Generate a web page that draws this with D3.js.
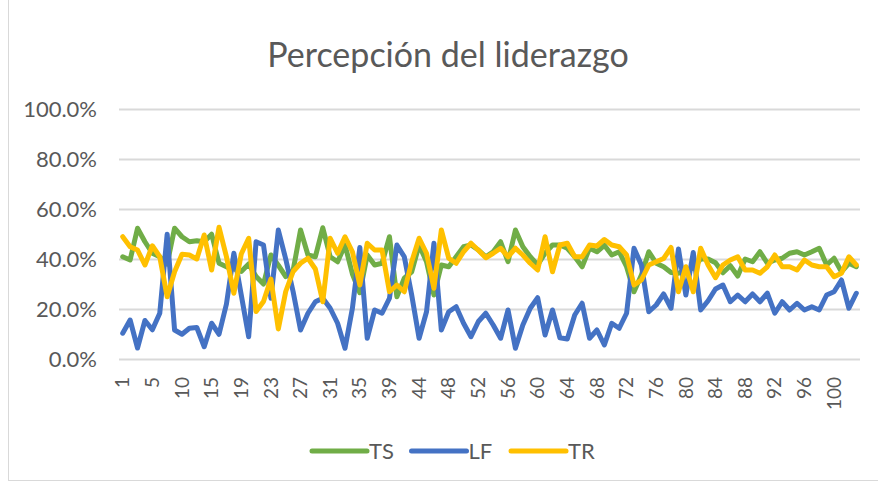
<!DOCTYPE html>
<html>
<head>
<meta charset="utf-8">
<script src="https://cdn.jsdelivr.net/npm/d3@7"></script>
<style>
  body { margin: 0; background: #fff; }
  text { font-family: Lato, "Liberation Sans", sans-serif; fill: #595959; }
</style>
</head>
<body>
<div id="chart-wrap"></div>
<script>
const categories = [1, 2, 3, 4, 5, 6, 7, 9, 10, 11, 12, 14, 15, 16, 17, 18, 19, 20, 21, 22,
  23, 24, 25, 26, 27, 28, 29, 30, 31, 32, 33, 34, 35, 36, 37, 38, 39, 40, 41, 43,
  44, 45, 46, 47, 48, 49, 50, 51, 52, 53, 54, 55, 56, 57, 58, 59, 60, 61, 62, 63,
  64, 65, 66, 67, 68, 69, 70, 71, 72, 73, 74, 75, 76, 77, 78, 79, 80, 81, 82, 83,
  84, 85, 86, 87, 88, 89, 90, 91, 92, 93, 94, 95, 96, 97, 98, 99, 100, 101, 102, 103];

const tsValues = [40.9, 39.6, 52.3, 46.9, 42.3, 40.9, 38, 52.3, 48.9, 46.9,
  47.3, 46.9, 49.9, 38.3, 36.9, 36, 35, 38, 33, 30,
  41.6, 37.5, 33, 35.5, 51.6, 41.6, 40.9, 52.5, 40.9, 38.9,
  45.6, 34, 26.5, 41.6, 37.6, 38.3, 48.9, 24.9, 32.3, 34.9,
  45.6, 38.9, 25.6, 37.6, 36.9, 40.9, 44.9, 45.6, 43.6, 40.9,
  42.9, 46.9, 38.9, 51.6, 44.9, 40.9, 37.6, 42.3, 45.6, 45.6,
  44.3, 40.9, 36.9, 44.3, 42.9, 45.5, 41.6, 42.9, 36.9, 26.9,
  33.6, 42.9, 38.3, 36.9, 34.6, 34.3, 35.6, 36.3, 40, 40,
  38.5, 34.5, 37.3, 33.2, 40, 38.9, 42.9, 38.3, 39.6, 40.3,
  42.3, 42.9, 41.6, 42.9, 44.3, 37.6, 40.3, 34.9, 38.3, 36.9];

const lfValues = [10.3, 15.6, 4.4, 15.4, 11.7, 18.3, 49.9, 11.6, 9.9, 12.3,
  12.6, 4.9, 14.3, 9.9, 22, 42.3, 25.6, 8.9, 46.9, 45.6,
  24.3, 51.6, 40, 26.9, 11.6, 18.3, 22.9, 24.3, 20.3, 14.3,
  4.3, 20.3, 44.6, 8.3, 19.6, 18.3, 24.3, 45.6, 40.9, 25.6,
  8.3, 18.9, 46.3, 11.6, 18.9, 20.9, 14.3, 8.9, 15, 18.3,
  13.6, 8.3, 19.6, 4.3, 13.6, 20.3, 24.5, 9.6, 19.6, 8.5,
  8, 17.6, 22.3, 8.3, 11.6, 5.6, 14.3, 12.3, 18.3, 44.3,
  37.6, 18.9, 21.6, 26, 20.3, 44, 25.6, 42.6, 19.6, 23.3,
  28, 29.6, 22.9, 25.6, 22.9, 26, 22.9, 26.3, 18.3, 22.9,
  19.6, 22.3, 19.6, 20.9, 19.6, 25.6, 26.9, 31.6, 20.3, 26.3];

const trValues = [48.9, 44.9, 43.6, 37.6, 45.3, 40.9, 24.9, 34.9, 41.9, 41.6,
  40, 49.6, 35.6, 52.7, 40.9, 26.3, 42, 48.3, 19, 23,
  32, 12, 27, 35, 38.3, 40.3, 36, 22.9, 48.3, 42.3,
  48.9, 42.9, 29.6, 46.3, 43.6, 43.6, 26.9, 29.6, 26.9, 38.9,
  48.3, 42.3, 28.3, 51.6, 40.3, 38.3, 42.9, 46.3, 43.5, 40.5,
  42.3, 44.3, 40.9, 44.3, 41.6, 38.3, 35.6, 48.9, 34.9, 45.6,
  46.3, 40.9, 40.9, 45.6, 45.2, 47.8, 45.6, 44.9, 41.6, 29.6,
  31.6, 37.6, 38.9, 40.2, 44.6, 26.9, 36.9, 26.9, 44.3, 37.6,
  32.5, 37.6, 39.6, 40.9, 35.6, 35.6, 34.3, 36.9, 41.6, 36.9,
  36.9, 35.6, 39.6, 37.6, 36.9, 36.9, 32.9, 34.3, 40.9, 37.6];

const seriesNames = ["TS", "LF", "TR"];
const seriesColors = ["#70AD47", "#4472C4", "#FFC000"];
const yTicks = [0, 20, 40, 60, 80, 100];

const width = 878;
const height = 484;
const plot = {left: 119, right: 860, top: 109, bottom: 359};

const series = [tsValues, lfValues, trValues].map((vals, k) => ({
  name: seriesNames[k],
  color: seriesColors[k],
  values: vals.map((v, i) => ({cat: categories[i], value: v}))
}));

const svg = d3.select("#chart-wrap")
  .append("svg")
  .attr("width", width)
  .attr("height", height);

// chart frame (only left and bottom edges are visible in the picture)
svg.append("line")
  .attr("x1", 8.5).attr("x2", 8.5).attr("y1", 0).attr("y2", 481)
  .attr("stroke", "#d9d9d9").attr("stroke-width", 1);
svg.append("line")
  .attr("x1", 8).attr("x2", width).attr("y1", 480.5).attr("y2", 480.5)
  .attr("stroke", "#d9d9d9").attr("stroke-width", 1);

svg.append("text")
  .attr("x", 448)
  .attr("y", 67)
  .attr("text-anchor", "middle")
  .style("font-size", "34px")
  .text("Percepción del liderazgo");

const x = d3.scaleBand()
  .domain(categories)
  .range([plot.left, plot.right]);

const y = d3.scaleLinear()
  .domain([0, 100])
  .range([plot.bottom, plot.top]);

// gridlines + y labels
const yAxis = svg.append("g")
  .attr("transform", "translate(" + plot.left + ",0)")
  .call(d3.axisLeft(y)
    .tickValues(yTicks)
    .tickSize(-(plot.right - plot.left))
    .tickPadding(22)
    .tickFormat(d => d3.format(".1f")(d) + "%"));
yAxis.select(".domain").remove();
yAxis.selectAll(".tick line").attr("stroke", "#d9d9d9").attr("stroke-width", 2);
yAxis.selectAll(".tick text")
  .attr("fill", "#595959")
  .attr("dy", "0.35em")
  .style("font-size", "22px")
  .style("font-family", "Lato, 'Liberation Sans', sans-serif");

// x labels, every 4th category, rotated
const xAxis = svg.append("g")
  .attr("transform", "translate(0," + plot.bottom + ")")
  .call(d3.axisBottom(x)
    .tickValues(categories.filter((d, i) => i % 4 === 0))
    .tickSize(0)
    .tickPadding(0));
xAxis.select(".domain").remove();
xAxis.selectAll(".tick text")
  .attr("fill", "#595959")
  .attr("transform", "rotate(-90)")
  .attr("text-anchor", "end")
  .attr("x", -18)
  .attr("y", 0)
  .attr("dy", "0.35em")
  .style("font-size", "19px")
  .style("font-family", "Lato, 'Liberation Sans', sans-serif");

const line = d3.line()
  .x(d => x(d.cat) + x.bandwidth() / 2)
  .y(d => y(d.value));

svg.append("g")
  .selectAll("path")
  .data(series)
  .join("path")
  .attr("fill", "none")
  .attr("stroke", d => d.color)
  .attr("stroke-width", 5)
  .attr("stroke-linejoin", "round")
  .attr("stroke-linecap", "round")
  .attr("d", d => line(d.values));

// legend
const legend = svg.append("g")
  .selectAll("g")
  .data(series)
  .join("g")
  .attr("transform", (d, i) => "translate(" + (312 + i * 99.5) + ",451)");

legend.append("line")
  .attr("x1", 0).attr("x2", 55)
  .attr("stroke", d => d.color)
  .attr("stroke-width", 5)
  .attr("stroke-linecap", "round");

legend.append("text")
  .attr("x", 57)
  .attr("dy", "0.36em")
  .style("font-size", "22px")
  .text(d => d.name);
</script>
</body>
</html>
